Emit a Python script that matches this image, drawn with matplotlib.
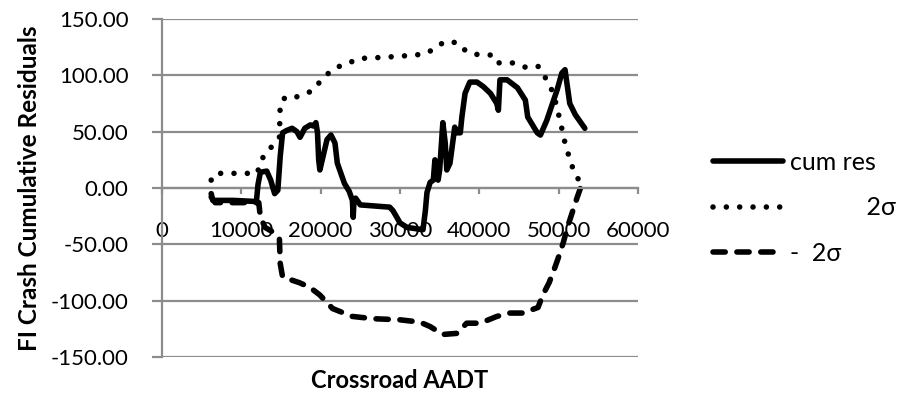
import matplotlib
matplotlib.use("Agg")
import matplotlib.pyplot as plt
from matplotlib.ticker import FormatStrFormatter

plt.rcParams['font.family'] = ['Lato', 'DejaVu Sans']

# Cumulative residuals of FI crashes against crossroad AADT
cum_x = [6200, 6400, 9000, 11900, 12100, 12400, 13200, 13700, 14200, 14600,
         14900, 15200, 15700, 16400, 17000, 17400, 18000, 18700, 19100, 19400,
         19600, 19750, 19900, 20300, 20800, 21300, 21800, 22100, 22400, 23000,
         23600, 24000, 24100, 24200, 24400, 25000, 28700, 29100, 29600, 30000,
         30900, 32900, 33200, 33400, 33800, 34200, 34400, 34700, 34800, 35000,
         35400, 35700, 35900, 36300, 36900, 37200, 37600, 37800, 38200, 38800,
         39700, 40500, 41400, 42200, 42400, 42600, 43500, 44800, 45800, 46100,
         47300, 47700, 48500, 49800, 50400, 50800, 51100, 51400, 52100, 53300]
cum_y = [-5, -11, -11, -12, 3, 14, 15, 7, -5, -2,
         28, 49, 51, 53, 50, 45, 53, 56, 55, 58,
         49, 25, 16, 28, 43, 47, 40, 22, 16, 4,
         -3, -11, -26, -11, -9, -15, -17, -20, -26, -31,
         -35, -37, -20, -4, 5, 7, 25, 19, 7, 16,
         58, 40, 16, 22, 54, 49, 49, 63, 84, 94,
         94, 90, 84, 75, 69, 96, 96, 89, 78, 63,
         49, 47, 60, 87, 102, 105, 90, 75, 65, 53]

# Upper control limit (+2 sigma)
up_x = [6200, 6700, 12000, 12300, 12900, 14300, 14800, 14900, 15600, 17000,
        18900, 20000, 21000, 22000, 23500, 25000, 28000, 30000, 32000, 33500,
        34500, 35700, 37200, 38400, 40000, 41900, 42500, 44300, 45900, 47400,
        48400, 49200, 49700, 50100, 50300, 50800, 51300, 51900, 52700, 53300]
up_y = [7, 13, 13, 20, 30, 40, 45, 75, 81, 81,
        86, 95, 102, 107, 111, 115, 116, 117, 118, 120,
        125, 130, 129, 121, 118, 118, 111, 111, 107, 108,
        97, 86, 74, 62, 56, 40, 28, 15, 5, 0]

# Lower control limit (-2 sigma)
lo_x = [6200, 6700, 12200, 12400, 13000, 14200, 14800, 14900, 15200, 17300,
        18600, 19900, 21500, 24000, 26600, 30000, 32500, 33800, 35400, 37200,
        38400, 40100, 42200, 43800, 45500, 47400, 48000, 48800, 49500, 50100,
        50600, 51100, 51700, 52300, 52900]
lo_y = [-8, -13, -13, -26, -35, -40, -45, -67, -79, -84,
        -88, -95, -107, -114, -116, -117, -119, -123, -130, -129,
        -120, -120, -114, -111, -111, -106, -95, -84, -71, -59,
        -48, -35, -22, -9, 3]

y_ticks = [-150, -100, -50, 0, 50, 100, 150]
x_ticks = [0, 10000, 20000, 30000, 40000, 50000, 60000]

grid_gray = '#8c8c8c'
fs = 16
legend_fs = 18

fig = plt.figure(figsize=(9.05, 3.93), dpi=100)
ax = fig.add_axes([162 / 905, 1 - 357 / 393, 476 / 905, 338 / 393])

ax.set_xlim(0, 60000)
ax.set_ylim(-150, 150)
ax.set_yticks(y_ticks)
ax.set_xticks(x_ticks)
ax.yaxis.set_major_formatter(FormatStrFormatter('%.2f'))
ax.xaxis.set_major_formatter(FormatStrFormatter('%d'))

for y in y_ticks:
    ax.axhline(y, color=grid_gray, lw=1.6, zorder=0)

for s in ['top', 'right']:
    ax.spines[s].set_visible(False)
ax.spines['left'].set_color(grid_gray)
ax.spines['left'].set_linewidth(1.6)
ax.spines['bottom'].set_position(('data', 0))
ax.spines['bottom'].set_color(grid_gray)
ax.spines['bottom'].set_linewidth(1.6)

ax.tick_params(axis='y', direction='out', length=7, width=1.6, color=grid_gray,
               pad=17, labelsize=fs, labelcolor='black')
ax.tick_params(axis='x', direction='out', length=4, width=1.6, color=grid_gray,
               pad=20, labelsize=fs, labelcolor='black')
for t in ax.get_yticklabels():
    t.set_verticalalignment('center_baseline')

lw = 4.0
ax.plot(cum_x, cum_y, color='black', lw=lw, solid_joinstyle='round',
        solid_capstyle='round', label='cum res', zorder=3)
ax.plot(up_x, up_y, color='black', lw=lw, linestyle=(0, (0.001, 2.4)),
        dash_capstyle='round', label='            2σ', zorder=2)
ax.plot(lo_x, lo_y, color='black', lw=lw, linestyle=(0, (2.2, 2.1)),
        dash_capstyle='round', label='-  2σ', zorder=2)

ax.set_ylabel('FI Crash Cumulative Residuals', fontsize=17.5, fontweight='bold')
ax.yaxis.set_label_coords(-0.255, 0.5)
ax.set_xlabel('Crossroad AADT', fontsize=17, fontweight='bold')
ax.xaxis.set_label_coords(0.5, -0.035)

fig.legend(loc='center left', bbox_to_anchor=(713 / 905, 1 - 208 / 393),
           frameon=False, fontsize=legend_fs, handlelength=2.8,
           handletextpad=0.28, labelspacing=0.9, borderpad=0, borderaxespad=0)

fig.savefig('out.png', dpi=100)
